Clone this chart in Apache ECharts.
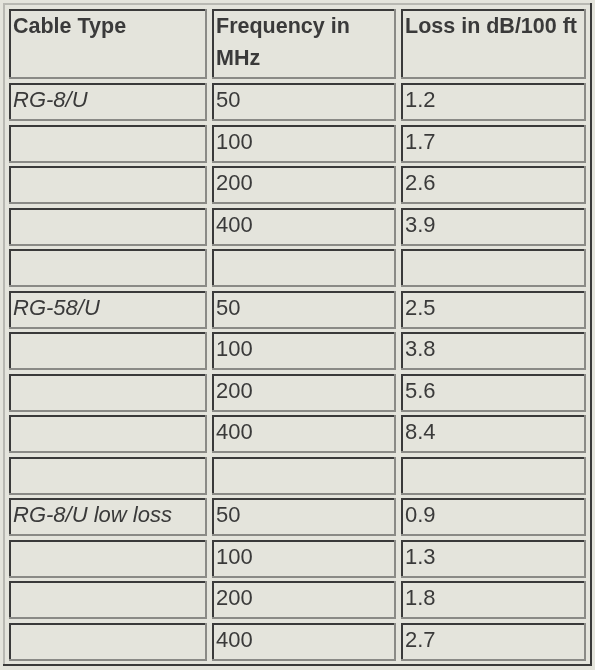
<!DOCTYPE html>
<html>
<head>
<meta charset="utf-8">
<script src="https://cdn.jsdelivr.net/npm/echarts@6/dist/echarts.min.js"></script>
<style>html,body{margin:0;padding:0;background:#e4e4dc}#main{width:595px;height:670px}</style>
</head>
<body>
<div id="main"></div>
<script>
// 表格数据
const headers = ['Cable Type', 'Frequency in\nMHz', 'Loss in dB/100 ft'];
const cableTypes = ['RG-8/U', '', '', '', '', 'RG-58/U', '', '', '', '', 'RG-8/U low loss', '', '', ''];
const frequencies = ['50', '100', '200', '400', '', '50', '100', '200', '400', '', '50', '100', '200', '400'];
const losses = ['1.2', '1.7', '2.6', '3.9', '', '2.5', '3.8', '5.6', '8.4', '', '0.9', '1.3', '1.8', '2.7'];

const colX = [9, 212, 401];
const colW = [198, 184, 185];
const bg = '#e4e4dc';
const dark = '#3a3a3a';
const light = '#8a8a86';

const myChart = echarts.init(document.getElementById('main'));
const elements = [];

function frame(x, y, w, h, tl, br, width) {
    const s = {stroke: tl, lineWidth: width};
    const s2 = {stroke: br, lineWidth: width};
    const o = width / 2;
    elements.push({type: 'line', shape: {x1: x, y1: y + o, x2: x + w, y2: y + o}, style: s});
    elements.push({type: 'line', shape: {x1: x + o, y1: y, x2: x + o, y2: y + h}, style: s});
    elements.push({type: 'line', shape: {x1: x, y1: y + h - o, x2: x + w, y2: y + h - o}, style: s2});
    elements.push({type: 'line', shape: {x1: x + w - o, y1: y, x2: x + w - o, y2: y + h}, style: s2});
}

function cell(col, y, h, text, font) {
    const x = colX[col], w = colW[col];
    elements.push({type: 'rect', shape: {x: x, y: y, width: w, height: h}, style: {fill: bg}});
    frame(x, y, w, h, dark, light, 2);
    if (text) {
        elements.push({
            type: 'text', x: x + 4, y: y + 2,
            style: {text: text, font: font, fill: '#3a3a3a', lineHeight: 32, verticalAlign: 'top'}
        });
    }
}

// 外框
elements.push({type: 'rect', shape: {x: 3, y: 3, width: 589, height: 663}, style: {fill: bg}});
frame(3, 3, 589, 663, '#b8b8b2', '#3a3a3a', 2);

// 表头
headers.forEach((h, i) => cell(i, 9, 70, h, 'bold 21.5px "Liberation Sans", Arial'));

// 数据行
const rowTop = 83, rowStep = 41.5, rowH = 38;
cableTypes.forEach((c, i) => {
    const y = Math.round(rowTop + i * rowStep);
    cell(0, y, rowH, c, 'italic 22px "Liberation Sans", Arial');
    cell(1, y, rowH, frequencies[i], '22px "Liberation Sans", Arial');
    cell(2, y, rowH, losses[i], '22px "Liberation Sans", Arial');
});

myChart.setOption({backgroundColor: bg, graphic: {elements: elements}});
</script>
</body>
</html>
